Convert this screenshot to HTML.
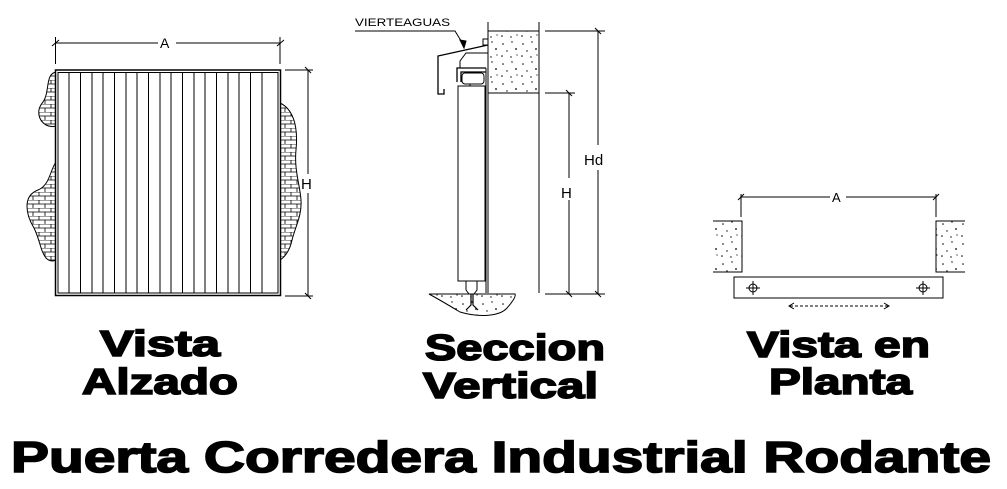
<!DOCTYPE html>
<html><head><meta charset="utf-8"><style>
html,body{margin:0;padding:0;background:#fff;}
svg{display:block;}
.t{font-family:"Liberation Sans",Arial,sans-serif;font-weight:bold;fill:#000;stroke:#000;stroke-width:1.6;}
.s{font-family:"Liberation Sans",Arial,sans-serif;fill:#000;}
</style></head><body>
<svg width="1007" height="489" viewBox="0 0 1007 489" xmlns="http://www.w3.org/2000/svg">
<defs>
<pattern id="brick" width="12" height="8" patternUnits="userSpaceOnUse">
<rect width="12" height="8" fill="#fff"/>
<path d="M0 0H12M0 4H12M3 0V4M9 4V8" stroke="#000" stroke-width="0.8" fill="none"/>
</pattern>
<pattern id="conc" width="20" height="20" patternUnits="userSpaceOnUse">
<rect width="20" height="20" fill="#fff"/>
<g fill="#000"><circle cx="3" cy="4" r="0.8"/><circle cx="12" cy="2" r="0.7"/><circle cx="16" cy="9" r="0.9"/><circle cx="7" cy="11" r="0.7"/><circle cx="2" cy="16" r="0.8"/><circle cx="11" cy="17" r="0.7"/><circle cx="17" cy="15" r="0.6"/></g>
</pattern>
</defs>
<g stroke="#000" fill="none" stroke-width="1">
<!-- Elevation -->
<path d="M56 72 C45 74,50 92,43 102 C36 110,38 120,46 125 C52 128,55 126,56 126 Z" fill="url(#brick)"/>
<path d="M56 162 C50 170,50 185,38 190 C22 196,26 215,34 228 C40 240,40 250,46 258 C50 262,54 261,56 260 Z" fill="url(#brick)"/>
<path d="M280 103 C295 110,298 130,296 150 C294 170,300 185,301 200 C302 215,296 225,292 240 C290 250,285 257,280 260 Z" fill="url(#brick)"/>
<rect x="55.5" y="70" width="225" height="225.5" fill="#fff" stroke-width="1.5"/>
<rect x="58" y="72.5" width="220" height="220.5"/>
<g stroke-width="1">
<path d="M69 72.5V293M80.5 72.5V293M92 72.5V293M103 72.5V293M114.5 72.5V293M126 72.5V293M137 72.5V293M148.5 72.5V293M160 72.5V293M171 72.5V293M182.5 72.5V293M194 72.5V293M205 72.5V293M216.5 72.5V293M228 72.5V293M239 72.5V293M250.5 72.5V293M262 72.5V293"/>
</g>
<path d="M55.5 37V64M280 37V64M55.5 43H158M176 43H280M52 46L59 40M277 46L284 40"/>
<path d="M285 70H313M285 296H313M308 70V174M308 193V296M305 67L311 73M305 293L311 299"/>
<!-- Section -->
<rect x="488" y="31" width="51" height="62" fill="url(#conc)" stroke="none"/>
<path d="M488 22V293M539 22V293M488 31H539M488 93H539" />
<path d="M545 31H605M545 93H575M545 294H605M598 31V145M598 170V294M569 93V178M569 200V294M595 28L601 34M566 90L572 96M566 291L572 297M595 291L601 297"/>
<path d="M488 45L438 56V94H444V89" stroke-width="1.3"/>
<rect x="483" y="39" width="5" height="6"/>
<path d="M488 53H466L460 61V68" />
<path d="M457 82V68H486M461 82V72H486" stroke-width="1.3"/>
<rect x="462" y="73" width="22" height="11" rx="3"/>
<rect x="458" y="86" width="27" height="195"/>
<path d="M470 84V86"/>
<path d="M485 86V281M486 68V293"/>
<path d="M466 281V290L469 294H474L477 290V281" />
<path d="M429 294C440 300,450 306,460 312C480 318,500 316,507 308C514 300,516 296,515 294Z" fill="url(#conc)"/>
<path d="M429 294H515"/>
<path d="M471 294V305L466 310M473 294V305L478 310" stroke-width="1.2"/>
<path d="M355 31H455L463 44" />
<path d="M460 40L464 48L466 41Z" fill="#000"/>
<!-- Plan -->
<rect x="713" y="221" width="29" height="51" fill="url(#conc)" stroke="none"/>
<rect x="936" y="221" width="29" height="51" fill="url(#conc)" stroke="none"/>
<path d="M713 221H742V272H713M965 221H936V272H965"/>
<path d="M741 194V217M936 194V217M741 197H830M846 197H936M738 200L744 194M933 200L939 194"/>
<rect x="734" y="277" width="209" height="21"/>
<circle cx="753" cy="288" r="4"/><path d="M746 288H760M753 281V295"/>
<circle cx="923" cy="288" r="4"/><path d="M916 288H930M923 281V295"/>
<path d="M790 306H888" stroke-dasharray="3,2"/>
<path d="M794 303L789 306L794 309M884 303L889 306L884 309"/>
</g>
<text class="s" x="160" y="48" font-size="14">A</text>
<text class="s" x="301" y="189" font-size="15">H</text>
<text class="s" x="584" y="165" font-size="15">Hd</text>
<text class="s" x="561" y="198" font-size="15">H</text>
<text class="s" x="355" y="26" font-size="11" textLength="95" lengthAdjust="spacingAndGlyphs">VIERTEAGUAS</text>
<text class="s" x="832" y="202" font-size="13">A</text>
<text class="t" x="100" y="356" font-size="36" textLength="120" lengthAdjust="spacingAndGlyphs">Vista</text>
<text class="t" x="82" y="394" font-size="36" textLength="156" lengthAdjust="spacingAndGlyphs">Alzado</text>
<text class="t" x="425" y="360" font-size="36" textLength="180" lengthAdjust="spacingAndGlyphs">Seccion</text>
<text class="t" x="423" y="398" font-size="36" textLength="175" lengthAdjust="spacingAndGlyphs">Vertical</text>
<text class="t" x="747" y="357" font-size="36" textLength="183" lengthAdjust="spacingAndGlyphs">Vista en</text>
<text class="t" x="769" y="394" font-size="36" textLength="143" lengthAdjust="spacingAndGlyphs">Planta</text>
<text class="t" x="11" y="472" font-size="44" stroke-width="2" textLength="980" lengthAdjust="spacingAndGlyphs">Puerta Corredera Industrial Rodante</text>
</svg>
</body></html>
